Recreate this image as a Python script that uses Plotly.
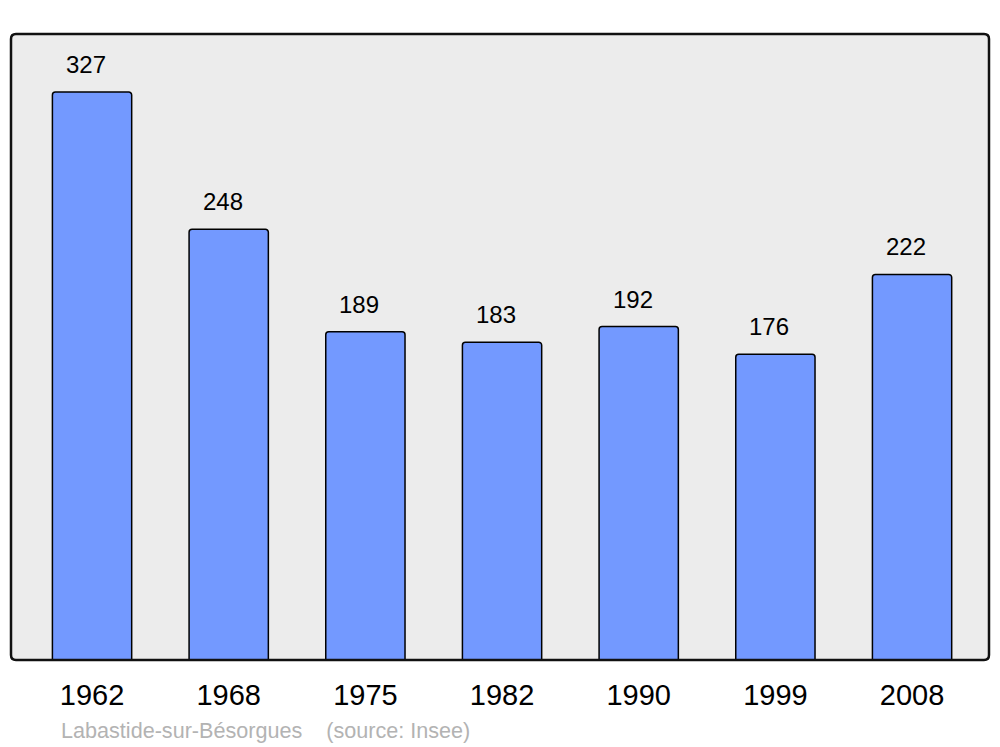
import plotly.graph_objects as go

years = ["1962", "1968", "1975", "1982", "1990", "1999", "2008"]
population = [327, 248, 189, 183, 192, 176, 222]
footer = "Labastide-sur-Bésorgues    (source: Insee)"

font_family = "Liberation Sans, Arial, sans-serif"

# page body has an 8px margin, so the figure is made 8px smaller and shifted
plot_l, plot_t, plot_w, plot_h = 3, 26, 978, 626

fig = go.Figure(
    go.Bar(
        x=years, y=population, width=0.58,
        marker=dict(color="#7399ff", line=dict(color="black", width=1.5), cornerradius=3),
        hoverinfo="x+y",
    )
)

# value labels above bars
for i, val in enumerate(population):
    fig.add_annotation(
        x=i, y=val, text=str(val), showarrow=False,
        yanchor="bottom", yshift=12, xshift=-6,
        font=dict(size=24, color="black", family=font_family),
    )

# rounded plot border (paper coords)
rx, ry = 5 / plot_w, 5 / plot_h
path = (
    f"M {rx},0 L {1 - rx},0 Q 1,0 1,{ry} L 1,{1 - ry} Q 1,1 {1 - rx},1 "
    f"L {rx},1 Q 0,1 0,{1 - ry} L 0,{ry} Q 0,0 {rx},0 Z"
)
fig.add_shape(type="path", path=path, xref="paper", yref="paper",
              line=dict(color="#111111", width=2.5), layer="above")

fig.add_annotation(
    x=(59 - 11) / plot_w, y=-(730 - 660) / plot_h, xref="paper", yref="paper",
    xanchor="left", yanchor="middle", text=footer, showarrow=False,
    font=dict(size=21.6, color="#b3b3b3", family=font_family),
)

fig.update_layout(
    width=992, height=739,
    margin=dict(l=plot_l, r=11, t=plot_t, b=87),
    paper_bgcolor="white",
    plot_bgcolor="#ececec",
    showlegend=False,
    font=dict(family=font_family, color="black"),
    xaxis=dict(
        type="category", range=[-0.593, 6.563], showgrid=False, zeroline=False,
        showline=False, ticks="", tickfont=dict(size=29), ticklabelstandoff=15,
        fixedrange=True,
    ),
    yaxis=dict(
        range=[0, 360.4], showgrid=False, zeroline=False, showticklabels=False,
        showline=False, fixedrange=True,
    ),
)

fig.write_html("out.html")
